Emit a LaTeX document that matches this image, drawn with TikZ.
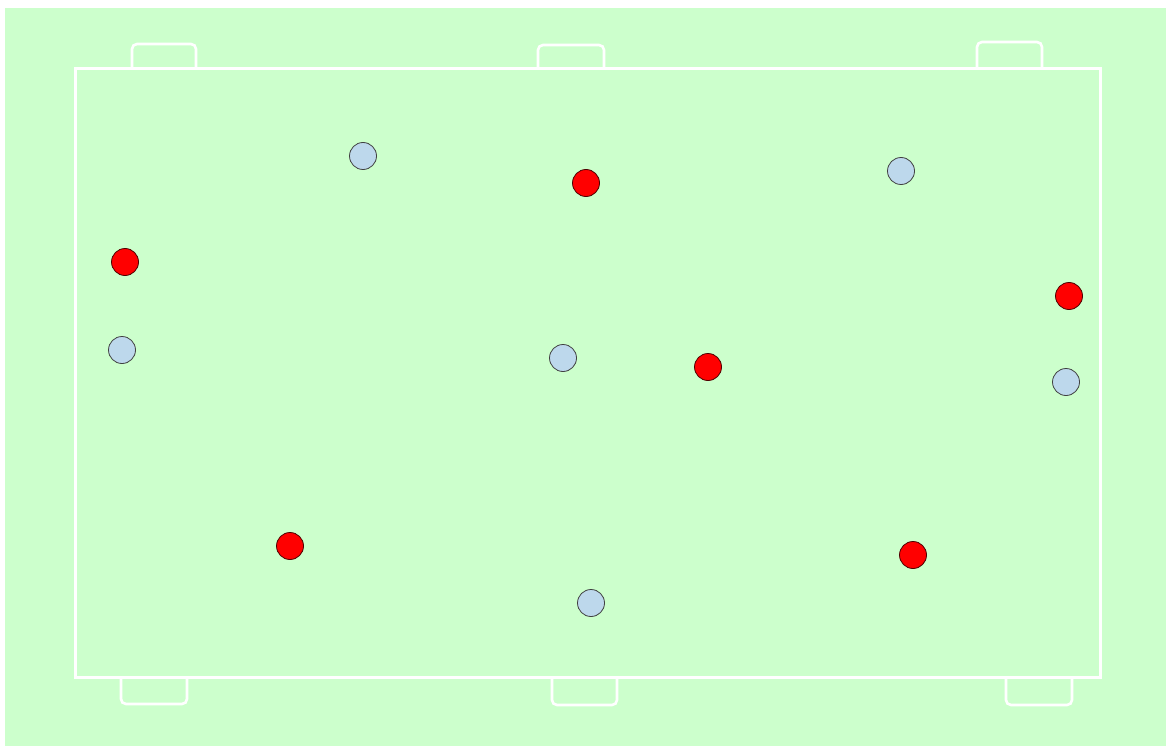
\documentclass[tikz,border=0pt]{standalone}
\begin{document}
\begin{tikzpicture}[x=1pt,y=-1pt,
  line/.style={draw=white,line width=3pt},
  goal/.style={draw=white,line width=2.6pt,rounded corners=5pt},
  redp/.style={circle,draw=black!70!red,fill=red,line width=0.8pt,minimum size=27pt,inner sep=0pt},
  bluep/.style={circle,draw=black!75,fill=blue!20!cyan!10!white!85!gray,line width=0.8pt,minimum size=27pt,inner sep=0pt}]
\definecolor{pitch}{HTML}{CCFFCC}
\definecolor{light}{HTML}{BDD8EC}
\useasboundingbox (0,0) rectangle (1166,746);
\fill[white] (0,0) rectangle (1166,746);
\fill[pitch] (5,8) rectangle (1166,746);
% field
\draw[line] (75,69) rectangle (1100,677);
% goals top
\draw[goal] (132,69) -- (132,44) -- (196,44) -- (196,69);
\draw[goal] (538,69) -- (538,45) -- (604,45) -- (604,69);
\draw[goal] (977,69) -- (977,42) -- (1042,42) -- (1042,69);
% goals bottom
\draw[goal] (121,677) -- (121,704) -- (187,704) -- (187,677);
\draw[goal] (552,677) -- (552,705) -- (617,705) -- (617,677);
\draw[goal] (1006,677) -- (1006,705) -- (1072,705) -- (1072,677);
% red players
\node[redp] (r1) at (125,262) {};
\node[redp] (r2) at (586,183) {};
\node[redp] (r3) at (708,367) {};
\node[redp] (r4) at (1069,296) {};
\node[redp] (r5) at (290,546) {};
\node[redp] (r6) at (913,555) {};
% blue players
\node[bluep,fill=light] (b1) at (363,156) {};
\node[bluep,fill=light] (b2) at (901,171) {};
\node[bluep,fill=light] (b3) at (122,350) {};
\node[bluep,fill=light] (b4) at (563,358) {};
\node[bluep,fill=light] (b5) at (1066,382) {};
\node[bluep,fill=light] (b6) at (591,603) {};
\end{tikzpicture}
\end{document}
